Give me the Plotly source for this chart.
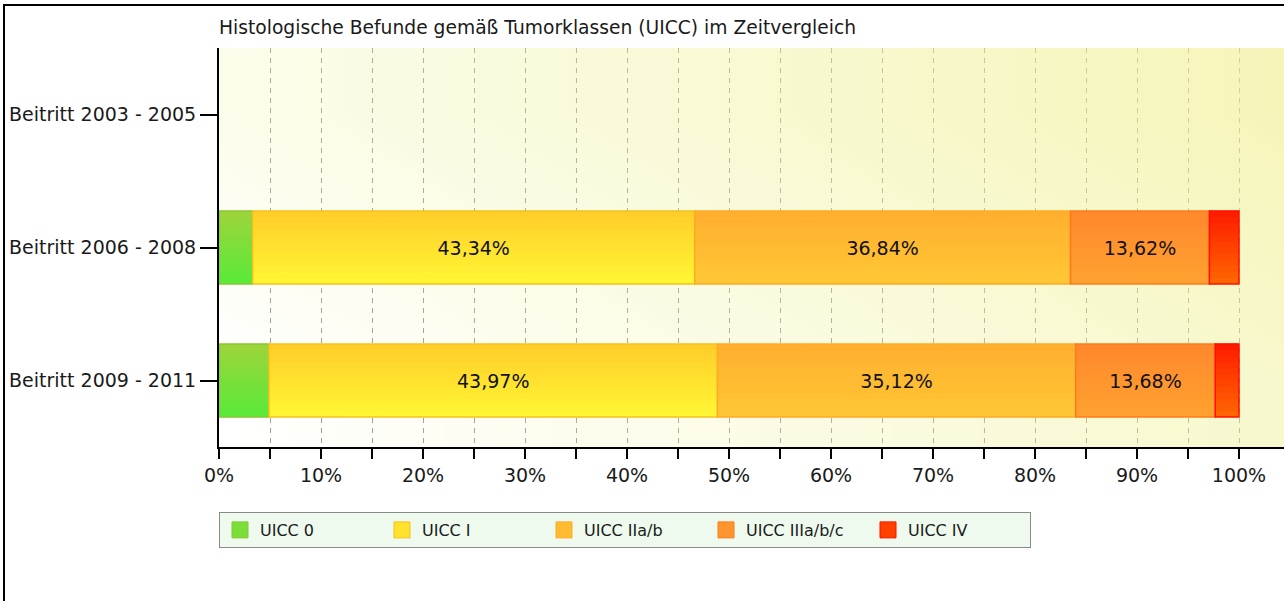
import plotly.graph_objects as go
import numpy as np

# ---------------- data ----------------
categories = ["Beitritt 2003 - 2005", "Beitritt 2006 - 2008", "Beitritt 2009 - 2011"]
series_names = ["UICC 0", "UICC I", "UICC IIa/b", "UICC IIIa/b/c", "UICC IV"]
uicc_0 = [None, 3.30, 4.90]
uicc_i = [None, 43.34, 43.97]
uicc_iia_b = [None, 36.84, 35.12]
uicc_iiia_b_c = [None, 13.62, 13.68]
uicc_iv = [None, 2.90, 2.33]
x_tick_values = list(range(0, 101, 5))
x_tick_labels = [f"{v}%" if v % 10 == 0 else "" for v in x_tick_values]
title_text = "Histologische Befunde gemäß Tumorklassen (UICC) im Zeitvergleich"

series_values = [uicc_0, uicc_i, uicc_iia_b, uicc_iiia_b_c, uicc_iv]

# ---------------- styles ----------------
FONT = "DejaVu Sans"
top_colors = [(158, 212, 58), (255, 204, 41), (255, 174, 46), (255, 136, 44), (255, 26, 0)]
bottom_colors = [(88, 234, 58), (255, 247, 51), (255, 200, 53), (255, 162, 48), (255, 104, 0)]
border_colors = ["#86C832", "#F4C21C", "#FFAA22", "#FF7A1A", "#FF1000"]
N_STRIPS = 12
BAR_W = 0.55

W, H = 1284, 601
ML, MR, MT, MB = 219, 0, 48, 154
plot_w = W - ML - MR
plot_h = H - MT - MB
px_per_pct = 10.2
x_max = plot_w / px_per_pct


def mix(c1, c2, f):
    return "rgb(%d,%d,%d)" % tuple(round(a * (1 - f) + b * f) for a, b in zip(c1, c2))


def fmt(v):
    return "" if v is None else (f"{v:.2f}%").replace(".", ",")


fig = go.Figure()

# background gradient (decorative)
bg_x = np.linspace(0, x_max, 12)
bg_z = [[0.72 * (xx / x_max) + 0.28 * (1 - r / 2) for xx in bg_x] for r in range(3)]
fig.add_trace(go.Heatmap(
    x=bg_x, y=categories, z=bg_z, zmin=0, zmax=1, zsmooth="best",
    colorscale=[[0, "rgba(240,240,150,0.0)"], [1, "rgba(240,240,150,0.66)"]],
    showscale=False, hoverinfo="skip",
))

# stacked bars built from data
bases = [0.0 if v is not None else None for v in uicc_0]
for si, (name, vals) in enumerate(zip(series_names, series_values)):
    base = [b for b in bases]
    # gradient strips
    for k in range(N_STRIPS):
        frac = (N_STRIPS - k - 0.5) / N_STRIPS
        fig.add_trace(go.Bar(
            y=categories, x=vals, base=base, orientation="h",
            offset=-BAR_W / 2, width=BAR_W * (N_STRIPS - k) / N_STRIPS,
            marker=dict(color=mix(top_colors[si], bottom_colors[si], frac), line=dict(width=0)),
            showlegend=False, hoverinfo="skip",
        ))
    # outline + label
    fig.add_trace(go.Bar(
        y=categories, x=vals, base=base, orientation="h",
        offset=-BAR_W / 2, width=BAR_W,
        marker=dict(color="rgba(0,0,0,0)", line=dict(color=border_colors[si], width=1.5)),
        text=[fmt(v) for v in vals], textposition="inside", insidetextanchor="middle",
        textangle=0, textfont=dict(family=FONT, size=19, color="#111111"),
        showlegend=False, name=name,
    ))
    # legend entry
    fig.add_trace(go.Scatter(
        x=[None], y=[None], mode="markers", name=name,
        marker=dict(symbol="square", size=16, color=mix(top_colors[si], bottom_colors[si], 0.5),
                    line=dict(color=border_colors[si], width=1)),
    ))
    bases = [None if b is None or v is None else b + v for b, v in zip(bases, vals)]

fig.update_layout(
    width=W, height=H, autosize=False,
    margin=dict(l=ML, r=MR, t=MT, b=MB, pad=0),
    paper_bgcolor="white", plot_bgcolor="white",
    barmode="overlay",
    uniformtext=dict(minsize=19, mode="hide"),
    font=dict(family=FONT, size=19, color="#1a1a1a"),
    title=dict(text=title_text, x=ML / W, xanchor="left", xref="container",
               y=1 - 27 / H, yanchor="middle", yref="container",
               font=dict(family=FONT, size=18.7, color="#1a1a1a")),
    xaxis=dict(range=[0, x_max], tickvals=x_tick_values, ticktext=x_tick_labels,
               showgrid=True, gridcolor="#9c9c98", griddash="5px,5px", gridwidth=1,
               showline=True, linecolor="black", linewidth=2,
               ticks="outside", ticklen=10, tickwidth=2, tickcolor="black",
               zeroline=False, tickfont=dict(family=FONT, size=19, color="#1a1a1a")),
    yaxis=dict(type="category", categoryorder="array", categoryarray=categories,
               range=[2.5, -0.5], showgrid=False, zeroline=False,
               showline=True, linecolor="black", linewidth=2,
               ticks="outside", ticklen=17, tickwidth=2, tickcolor="black",
               tickfont=dict(family=FONT, size=19, color="#1a1a1a")),
    legend=dict(orientation="h", x=0, xanchor="left", y=(H - MB - 512) / plot_h, yanchor="top",
                bgcolor="#EEFAEE", bordercolor="#8a8a8a", borderwidth=1,
                entrywidth=117, entrywidthmode="pixels",
                font=dict(family=FONT, size=16, color="#1a1a1a")),
    shapes=[
        dict(type="rect", xref="paper", yref="paper",
             x0=(4 - ML) / plot_w, x1=1.2, y0=-1.0, y1=(H - MB - 5) / plot_h,
             line=dict(color="black", width=2), fillcolor="rgba(0,0,0,0)", layer="above"),
    ],
)

fig.write_html(
    "out.html",
    config={"displayModeBar": False},
    post_script="document.body.style.margin='0';document.body.style.padding='0';"
                "document.body.style.overflow='hidden';",
)
